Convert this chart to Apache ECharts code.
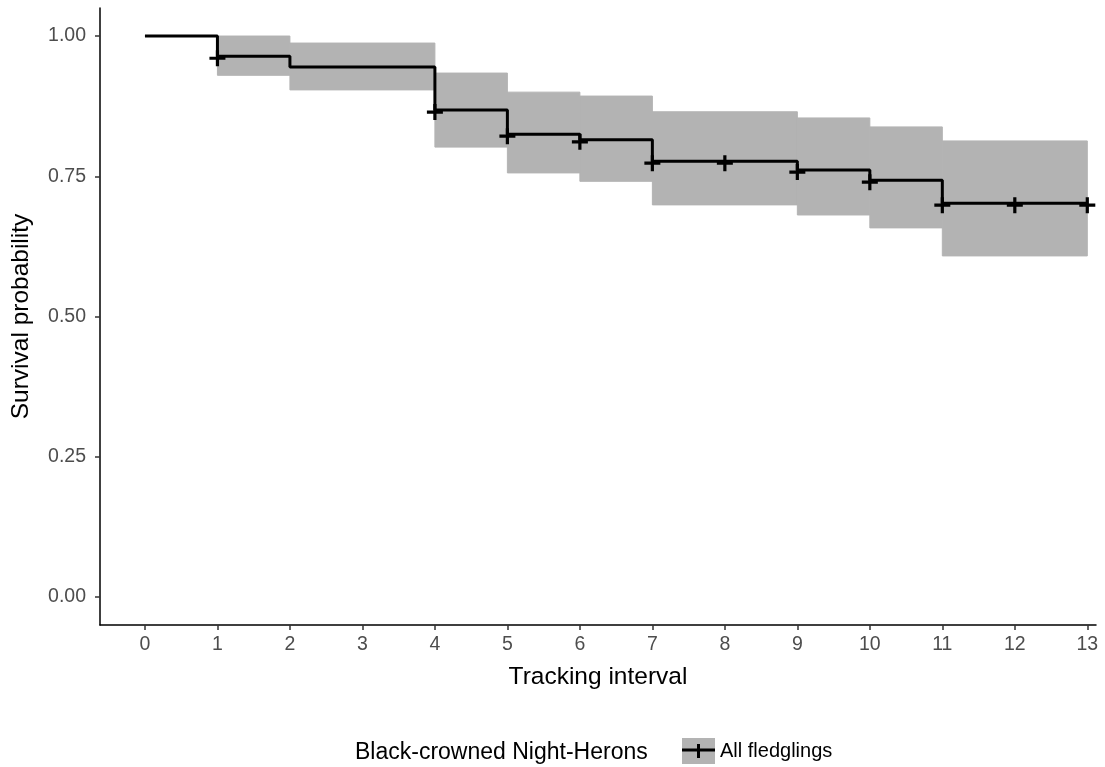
<!DOCTYPE html>
<html>
<head>
<meta charset="utf-8">
<script src="https://cdn.jsdelivr.net/npm/echarts@6/dist/echarts.min.js"></script>
<style>
html,body{margin:0;padding:0;background:#fff;}
#chart{width:1105px;height:767px;}
</style>
</head>
<body>
<div id="chart"></div>
<script>
// Kaplan-Meier step points (time where the curve changes, and survival from that time)
const stepTimes = [0, 1, 2, 4, 5, 6, 7, 9, 10, 11, 13];
const stepSurvival = [1.000, 0.964, 0.945, 0.868, 0.825, 0.815, 0.777, 0.761, 0.743, 0.702, 0.702];

// Confidence band intervals
const ciStart = [1, 2, 4, 5, 6, 7, 9, 10, 11];
const ciEnd   = [2, 4, 5, 6, 7, 9, 10, 11, 13];
const ciLower = [0.930, 0.904, 0.802, 0.756, 0.741, 0.699, 0.681, 0.658, 0.608];
const ciUpper = [1.000, 0.9875, 0.934, 0.900, 0.893, 0.865, 0.854, 0.838, 0.813];

// Censor marks
const censorTimes = [1, 4, 5, 6, 7, 8, 9, 10, 11, 12, 13];
const censorSurv  = [0.964, 0.868, 0.825, 0.815, 0.777, 0.777, 0.761, 0.743, 0.702, 0.702, 0.702];

// Tick labels
const xTicks = [0,1,2,3,4,5,6,7,8,9,10,11,12,13];
const yTicks = [0, 0.25, 0.5, 0.75, 1.0];

const seriesName = 'All fledglings';
const legendTitle = 'Black-crowned Night-Herons';

const lineData = stepTimes.map((t, i) => [t, stepSurvival[i]]);
const bandData = ciStart.map((s, i) => [s, ciEnd[i], ciLower[i], ciUpper[i]]);
const censorData = censorTimes.map((t, i) => [t, censorSurv[i]]);

const FONT = 'Liberation Sans, Arial, sans-serif';

const iconSvg = "<svg xmlns='http://www.w3.org/2000/svg' width='33' height='26'>" +
  "<rect x='0' y='0' width='33' height='26' fill='#b3b3b3'/>" +
  "<line x1='0' y1='12' x2='33' y2='12' stroke='#000' stroke-width='3'/>" +
  "<line x1='16.5' y1='6' x2='16.5' y2='20' stroke='#000' stroke-width='3'/>" +
  "</svg>";
const iconUrl = 'image://data:image/svg+xml;charset=utf-8,' + encodeURIComponent(iconSvg);

const chart = echarts.init(document.getElementById('chart'), null, {renderer: 'canvas'});

chart.setOption({
  animation: false,
  backgroundColor: '#ffffff',
  textStyle: {fontFamily: FONT},
  grid: {left: 100, right: 9, top: 8, bottom: 142, containLabel: false},
  title: {
    text: legendTitle,
    left: 350,
    top: 736,
    textStyle: {fontFamily: FONT, fontSize: 23, fontWeight: 'normal', color: '#000'}
  },
  legend: {
    data: [{name: seriesName, icon: iconUrl}],
    left: 677,
    top: 733,
    itemWidth: 33,
    itemHeight: 26,
    itemGap: 5,
    textStyle: {fontFamily: FONT, fontSize: 20, color: '#000'},
    selectedMode: false
  },
  xAxis: {
    type: 'value',
    min: -0.62,
    max: 13.12,
    name: 'Tracking interval',
    nameLocation: 'middle',
    nameGap: 40,
    nameTextStyle: {fontFamily: FONT, fontSize: 24.5, color: '#000'},
    splitLine: {show: false},
    axisLine: {show: true, onZero: false, lineStyle: {color: '#000', width: 1.5}},
    axisTick: {show: true, length: 5, customValues: xTicks, lineStyle: {color: '#333', width: 1.5}},
    axisLabel: {customValues: xTicks, margin: 10, fontSize: 19.5, color: '#4d4d4d', fontFamily: FONT}
  },
  yAxis: {
    type: 'value',
    min: -0.05,
    max: 1.05,
    name: 'Survival probability',
    nameLocation: 'middle',
    nameGap: 66,
    nameTextStyle: {fontFamily: FONT, fontSize: 24.5, color: '#000'},
    splitLine: {show: false},
    axisLine: {show: true, onZero: false, lineStyle: {color: '#000', width: 1.5}},
    axisTick: {show: true, length: 5, customValues: yTicks, lineStyle: {color: '#333', width: 1.5}},
    axisLabel: {customValues: yTicks, margin: 14, fontSize: 19.5, color: '#4d4d4d', fontFamily: FONT,
      formatter: v => v.toFixed(2)}
  },
  series: [
    {
      type: 'custom',
      name: 'band',
      z: 1,
      silent: true,
      data: bandData,
      encode: {x: [0, 1], y: [2, 3]},
      renderItem: function (params, api) {
        const p1 = api.coord([api.value(0), api.value(3)]);
        const p2 = api.coord([api.value(1), api.value(2)]);
        return {
          type: 'rect',
          shape: {x: p1[0], y: p1[1], width: p2[0] - p1[0], height: p2[1] - p1[1]},
          style: {fill: '#b3b3b3', stroke: '#b3b3b3', lineWidth: 1}
        };
      }
    },
    {
      type: 'line',
      name: seriesName,
      step: 'end',
      z: 3,
      data: lineData,
      showSymbol: false,
      symbol: 'none',
      lineStyle: {color: '#000', width: 3},
      itemStyle: {color: '#000'}
    },
    {
      type: 'scatter',
      name: 'censor',
      z: 4,
      data: censorData,
      symbol: 'path://M-1.6,-8 L1.6,-8 L1.6,8 L-1.6,8 Z M-8,-1.6 L8,-1.6 L8,1.6 L-8,1.6 Z',
      symbolSize: [16, 16],
      symbolOffset: [0, 2],
      itemStyle: {color: '#000', opacity: 1}
    }
  ]
});
</script>
</body>
</html>
